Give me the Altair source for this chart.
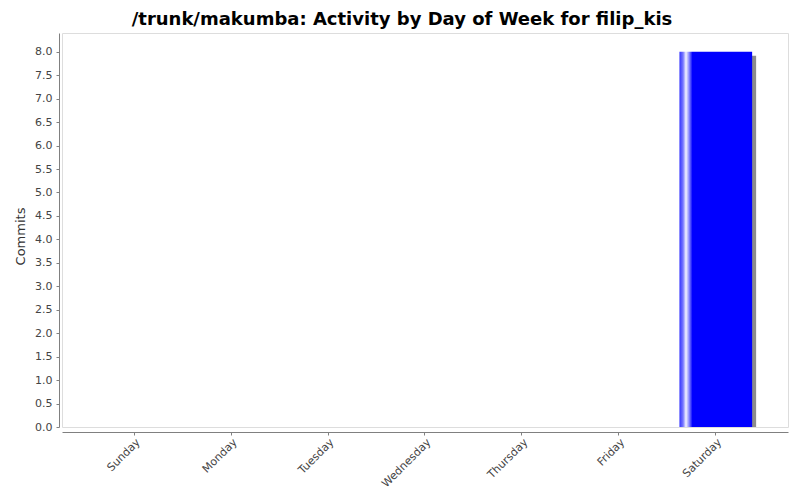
import altair as alt
import pandas as pd

days = ["Sunday", "Monday", "Tuesday", "Wednesday", "Thursday", "Friday", "Saturday"]
commits = [0, 0, 0, 0, 0, 0, 8]

df = pd.DataFrame({"day": days, "commits": commits})

x_enc = alt.X("day:N", sort=days, title=None,
              scale=alt.Scale(paddingInner=0.25, paddingOuter=0.37),
              axis=alt.Axis(labelAngle=-45, labelAlign="right", labelBaseline="top",
                            labelFont="DejaVu Sans", labelFontSize=11, labelColor="#444444",
                            domainColor="#808080", tickColor="#808080", tickSize=3,
                            labelPadding=1, offset=5))
y_enc = alt.Y("commits:Q", title="Commits",
              scale=alt.Scale(domain=[0, 8.4], nice=False, zero=True),
              axis=alt.Axis(values=[i * 0.5 for i in range(17)], format=".1f", grid=False,
                            labelFont="DejaVu Sans", labelFontSize=11, labelColor="#444444",
                            domainColor="#808080", tickColor="#808080", tickSize=3,
                            labelPadding=4, offset=3,
                            titleFont="DejaVu Sans", titleFontSize=13, titleFontWeight="normal",
                            titleColor="#333333", titleX=-35, titleY=203,
                            titleBaseline="alphabetic", titleAngle=270))

shadow = alt.Chart(df).mark_bar(color="#8c8c8c", xOffset=4, yOffset=4, y2Offset=4, clip=True).encode(
    x=x_enc, y=y_enc)

grad = alt.Gradient(
    gradient="linear", x1=0, x2=1, y1=0, y2=0,
    stops=[
        alt.GradientStop(offset=0.0, color="#3333ff"),
        alt.GradientStop(offset=0.05, color="#7777ff"),
        alt.GradientStop(offset=0.09, color="#f4f4ff"),
        alt.GradientStop(offset=0.13, color="#9090ff"),
        alt.GradientStop(offset=0.18, color="#0000ff"),
        alt.GradientStop(offset=1.0, color="#0000ff"),
    ])

bars = alt.Chart(df).mark_bar(color=grad).encode(x=x_enc, y=y_enc)

chart = alt.layer(shadow, bars).properties(
    width=726, height=394,
    title=alt.TitleParams("/trunk/makumba: Activity by Day of Week for filip_kis",
                          font="DejaVu Sans", fontSize=18, fontWeight="bold", color="#000000",
                          anchor="middle", baseline="alphabetic", offset=12, dx=-23, dy=22),
    autosize=alt.AutoSizeParams(type="none"),
    padding={"left": 54, "top": 25, "right": 4, "bottom": 63},
).configure_view(stroke="#808080", strokeWidth=1).configure(background="#ffffff")

chart.save("out.html", embed_options={"renderer": "svg", "actions": False})
